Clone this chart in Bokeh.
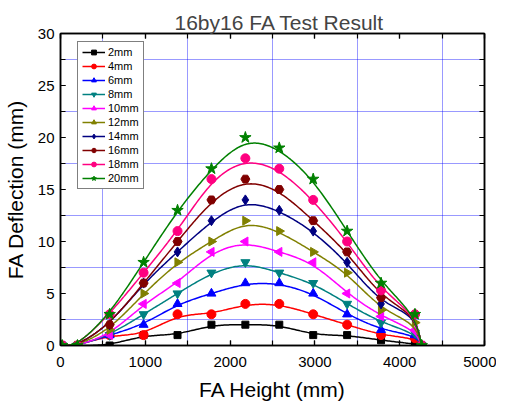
import numpy as np
from bokeh.plotting import figure
from bokeh.models import (Range1d, LinearAxis, SingleIntervalTicker, FixedTicker,
                          Legend, LegendItem)
from bokeh.embed import file_html
from bokeh.resources import INLINE

# ---------------- data ----------------
height_mm = [20, 200, 580, 980, 1380, 1780, 2180, 2580, 2980, 3380, 3780, 4180, 4260]

series_names = ["2mm", "4mm", "6mm", "8mm", "10mm", "12mm", "14mm", "16mm", "18mm", "20mm"]

defl_2mm = [0, 0, 0, 1, 1, 2, 2, 2, 1, 1, 0.5, 0.15, 0]
defl_4mm = [0, 0, 1, 1, 3, 3, 4, 4, 3, 2, 1, 0.7, 0]
defl_6mm = [0, 0, 1, 2, 4, 5, 6, 6, 5, 3, 1.5, 1, 0]
defl_8mm = [0, 0, 1, 3, 5, 7, 8, 7, 6, 4, 2.2, 1.2, 0]
defl_10mm = [0, 0, 1, 4, 6, 9, 10, 9, 8, 5, 2.8, 1.5, 0]
defl_12mm = [0, 0, 1.5, 5, 8, 10, 12, 11, 9, 7, 3.4, 2.2, 0]
defl_14mm = [0, 0, 2, 6, 9, 12, 14, 13, 11, 8, 4, 3, 0]
defl_16mm = [0, 0, 2, 6, 10, 14, 16, 15, 12, 9, 4.6, 3, 0]
defl_18mm = [0, 0, 3, 7, 11, 16, 18, 17, 14, 10, 5.3, 3, 0]
defl_20mm = [0, 0, 3, 8, 13, 17, 20, 19, 16, 11, 6, 3, 0]

x_ticks_grid = [500, 1500, 2500, 3500, 4500]
y_ticks_grid = [2.5, 7.5, 12.5, 17.5, 22.5, 27.5]

all_series = [defl_2mm, defl_4mm, defl_6mm, defl_8mm, defl_10mm,
              defl_12mm, defl_14mm, defl_16mm, defl_18mm, defl_20mm]

colors = ["#000000", "#FF0000", "#0000FF", "#008080", "#FF00FF",
          "#808000", "#000080", "#800000", "#FF0080", "#008000"]
markers = ["square", "circle", "triangle", "inverted_triangle", "triangle",
           "triangle", "diamond", "hex", "circle", "star"]
angles = [0, 0, 0, 0, np.pi / 2, -np.pi / 2, 0, 0, 0, 0]
sizes = [7, 9, 9, 9, 9, 9, 10, 9, 9, 12]


def bspline(xs, ys, n=24):
    """Uniform cubic B-spline with the data points as control points (clamped ends)."""
    P = np.column_stack([xs, ys]).astype(float)
    P = np.vstack([P[0], P[0], P, P[-1], P[-1]])
    t = np.linspace(0, 1, n, endpoint=False)[:, None]
    b0 = (1 - t) ** 3 / 6
    b1 = (3 * t ** 3 - 6 * t ** 2 + 4) / 6
    b2 = (-3 * t ** 3 + 3 * t ** 2 + 3 * t + 1) / 6
    b3 = t ** 3 / 6
    segs = []
    for i in range(len(P) - 3):
        q0, q1, q2, q3 = P[i], P[i + 1], P[i + 2], P[i + 3]
        segs.append(b0 * q0 + b1 * q1 + b2 * q2 + b3 * q3)
    segs.append(P[-1][None, :])
    out = np.vstack(segs)
    return out[:, 0], out[:, 1]


FONT = "Liberation Sans"

p = figure(frame_width=424, frame_height=312, output_backend="svg", toolbar_location=None,
           x_range=Range1d(0, 5000), y_range=Range1d(0, 30),
           min_border_left=55, min_border_right=12, min_border_top=33, min_border_bottom=50,
           title="16by16 FA Test Result")

p.title.text_font = FONT
p.title.text_font_size = "21px"
p.title.text_font_style = "normal"
p.title.align = "left"
p.title.offset = 114
p.title.standoff = 0

p.outline_line_color = "black"
p.outline_line_width = 1.5
p.background_fill_color = "white"

xt = SingleIntervalTicker(interval=1000, num_minor_ticks=2)
yt = SingleIntervalTicker(interval=5, num_minor_ticks=2)

for ax in (p.xaxis[0], p.yaxis[0]):
    ax.major_tick_in = 5
    ax.major_tick_out = 0
    ax.minor_tick_in = 5
    ax.minor_tick_out = 0
    ax.axis_line_width = 1.5
    ax.major_tick_line_width = 1.2
    ax.minor_tick_line_width = 1.2
    ax.major_label_text_font = FONT
    ax.major_label_text_font_size = "15px"
    ax.major_label_text_color = "black"
    ax.axis_label_text_font = FONT
    ax.axis_label_text_font_size = "21px"
    ax.axis_label_text_font_style = "normal"
    ax.axis_label_text_color = "black"

p.xaxis[0].ticker = xt
p.yaxis[0].ticker = yt
p.xaxis[0].axis_label = "FA Height (mm)"
p.yaxis[0].axis_label = "FA Deflection (mm)"
p.xaxis[0].major_label_standoff = 11
p.yaxis[0].major_label_standoff = 6
p.xaxis[0].axis_label_standoff = 8
p.yaxis[0].axis_label_standoff = 8

for loc, tk in (("right", yt), ("above", xt)):
    ax = LinearAxis(ticker=tk, major_label_text_font_size="1px", major_label_text_color=None,
                    major_tick_in=5, major_tick_out=0, minor_tick_in=5, minor_tick_out=0,
                    major_label_standoff=0, axis_line_width=1.5,
                    major_tick_line_width=1.2, minor_tick_line_width=1.2)
    p.add_layout(ax, loc)

p.xgrid.ticker = FixedTicker(ticks=x_ticks_grid)
p.ygrid.ticker = FixedTicker(ticks=y_ticks_grid)
for g in (p.xgrid[0], p.ygrid[0]):
    g.grid_line_color = "#0000FF"
    g.grid_line_dash = "1 1"
    g.grid_line_width = 1
    g.grid_line_alpha = 0.8

items = []
for name, ys, c, m, a, s in zip(series_names, all_series, colors, markers, angles, sizes):
    cx, cy = bspline(height_mm, ys)
    r_line = p.line(cx, cy, line_color=c, line_width=1.5)
    r_mark = p.scatter(height_mm, ys, marker=m, angle=a, size=s,
                       fill_color=c, line_color=c)
    items.append(LegendItem(label=name, renderers=[r_line, r_mark]))

legend = Legend(items=items, location=(17, 156))
legend.label_text_font = FONT
legend.label_text_font_size = "11px"
legend.label_text_color = "black"
legend.label_height = 12
legend.glyph_height = 12
legend.glyph_width = 23
legend.label_standoff = 3
legend.spacing = 2
legend.padding = 4
legend.margin = 0
legend.border_line_color = "black"
legend.border_line_width = 1
legend.background_fill_color = "white"
legend.background_fill_alpha = 1
p.add_layout(legend, "center")

open("out.html", "w").write(file_html(p, INLINE))
